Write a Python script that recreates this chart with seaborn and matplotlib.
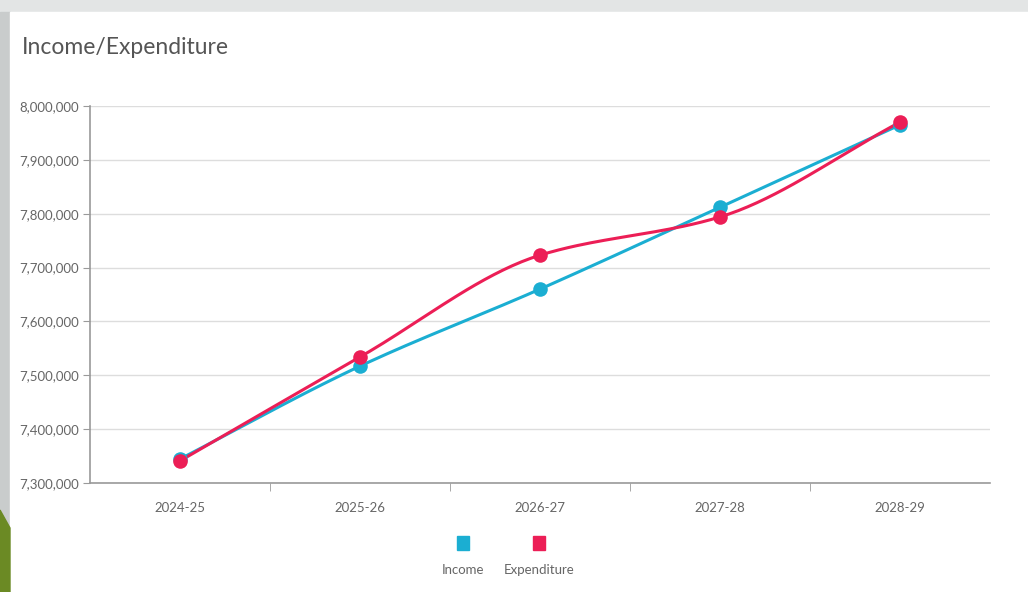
import numpy as np
import pandas as pd
import matplotlib
matplotlib.use("Agg")
import matplotlib.pyplot as plt
import seaborn as sns
from matplotlib.patches import Rectangle, Polygon
from matplotlib.ticker import FuncFormatter, FixedLocator

# values
years = ["2024-25", "2025-26", "2026-27", "2027-28", "2028-29"]
income = [7344500, 7517000, 7660000, 7812000, 7965000]
expenditure = [7341000, 7534000, 7723000, 7794000, 7970000]

income_color = "#1BAED2"
expend_color = "#EC1E56"


def monotone_curve(y, steps=40):
    # monotone cubic (like d3 curveMonotoneX) just for drawing the smooth line
    y = np.asarray(y, dtype=float)
    n = len(y)
    x = np.arange(n, dtype=float)
    d = np.diff(y)
    m = np.zeros(n)
    m[0], m[-1] = d[0], d[-1]
    for i in range(1, n - 1):
        if d[i - 1] * d[i] <= 0:
            m[i] = 0
        else:
            m[i] = 2 / (1 / d[i - 1] + 1 / d[i])
    xs, ys = [], []
    for i in range(n - 1):
        t = np.linspace(0, 1, steps)
        h00 = 2 * t**3 - 3 * t**2 + 1
        h10 = t**3 - 2 * t**2 + t
        h01 = -2 * t**3 + 3 * t**2
        h11 = t**3 - t**2
        xs.append(x[i] + t)
        ys.append(h00 * y[i] + h10 * m[i] + h01 * y[i + 1] + h11 * m[i + 1])
    return np.concatenate(xs), np.concatenate(ys)


sns.set_style("white")
plt.rcParams["font.family"] = ["Lato", "DejaVu Sans"]

fig = plt.figure(figsize=(10.28, 5.92), dpi=100)
fig.patch.set_facecolor("white")

# page background bits around the card
fig.patches.append(Rectangle((0, 0), 1, 1, transform=fig.transFigure, color="#E3E5E5", zorder=-10))
fig.patches.append(Rectangle((0, 0), 10 / 1028, 1 - 12 / 592, transform=fig.transFigure,
                             color="#C9CCCC", zorder=-9.5))
fig.patches.append(Rectangle((10 / 1028, 0), 1, (592 - 12) / 592, transform=fig.transFigure,
                             color="white", zorder=-9))
fig.patches.append(Polygon([(0, 0), (10 / 1028, 0), (10 / 1028, 1 - 528 / 592), (0, 1 - 510 / 592)],
                           closed=True, transform=fig.transFigure, color="#6B8A24", zorder=-8))

ax = fig.add_axes([90 / 1028, (592 - 483) / 592, 900 / 1028, 377 / 592])

df = pd.DataFrame({"x": list(range(len(years))) * 2,
                   "value": income + expenditure,
                   "series": ["Income"] * len(years) + ["Expenditure"] * len(years)})

for name, vals, col in [("Income", income, income_color), ("Expenditure", expenditure, expend_color)]:
    cx, cy = monotone_curve(vals)
    sns.lineplot(x=cx, y=cy, color=col, linewidth=2.2, ax=ax, sort=False, zorder=3)
    sub = df[df["series"] == name]
    sns.scatterplot(data=sub, x="x", y="value", color=col, s=110, edgecolor=col,
                    linewidth=0, ax=ax, zorder=4, legend=False)

ax.set_xlim(-0.5, len(years) - 0.5)
ax.set_ylim(7300000, 8000000)
ax.set_yticks(np.arange(7300000, 8000001, 100000))
ax.yaxis.set_major_formatter(FuncFormatter(lambda v, p: f"{int(v):,}"))
ax.set_xticks(range(len(years)))
ax.set_xticklabels(years)
ax.xaxis.set_minor_locator(FixedLocator(np.arange(0.5, len(years) - 1, 1)))
ax.set_xlabel("")
ax.set_ylabel("")

ax.grid(axis="y", color="#DDDDDD", linewidth=1)
ax.set_axisbelow(True)
for s in ["top", "right"]:
    ax.spines[s].set_visible(False)
for s in ["left", "bottom"]:
    ax.spines[s].set_color("#9A9A9A")
    ax.spines[s].set_linewidth(1.2)

ax.tick_params(axis="y", which="major", length=5, color="#9A9A9A", labelsize=9.5,
               labelcolor="#666666", pad=3, left=True)
ax.tick_params(axis="x", which="major", length=0, labelsize=9.5, labelcolor="#666666", pad=14)
ax.tick_params(axis="x", which="minor", length=6, color="#9A9A9A", bottom=True)

fig.text(22 / 1028, 1 - 47 / 592, "Income/Expenditure", fontsize=16.5, color="#555555",
         va="center", ha="left")

# legend, drawn as in the original: swatch above the label
for label, col, xc in [("Income", income_color, 463), ("Expenditure", expend_color, 539)]:
    fig.patches.append(Rectangle(((xc - 6) / 1028, 1 - 550 / 592), 12 / 1028, 14 / 592,
                                 transform=fig.transFigure, color=col))
    fig.text(xc / 1028, 1 - 570 / 592, label, fontsize=9.5, color="#666666",
             ha="center", va="center")

fig.savefig("out.png", dpi=100)
